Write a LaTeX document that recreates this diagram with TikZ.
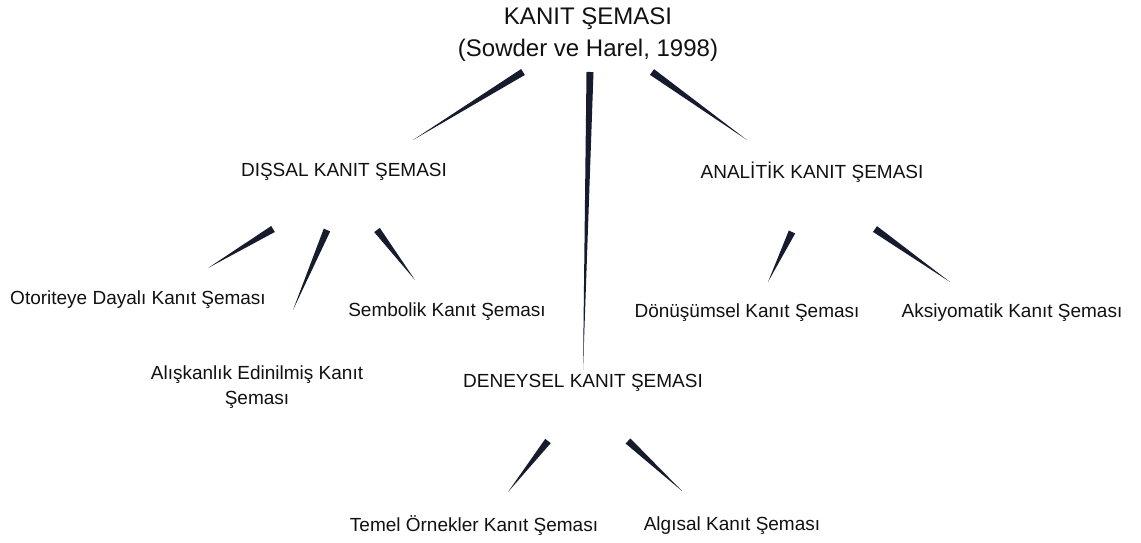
\documentclass[tikz,border=0pt]{standalone}
\usepackage{fontspec}
\setmainfont{Liberation Sans}
\usetikzlibrary{calc}
\definecolor{wedgecol}{HTML}{161B2E}
\definecolor{txtcol}{HTML}{111111}
\newcommand\wedgeconn[3][3.5pt]{\fill[wedgecol] ($(#2)!#1!90:(#3)$) -- ($(#2)!#1!-90:(#3)$) -- (#3) -- cycle;}
\tikzset{
  lbl/.style={text=txtcol, font=\fontsize{19}{25}\selectfont, inner sep=0pt, align=center},
  ttl/.style={text=txtcol, font=\fontsize{24}{32}\selectfont, inner sep=0pt, align=center}
}
\begin{document}
\begin{tikzpicture}[x=1pt,y=-1pt]
\useasboundingbox[fill=white] (0,0) rectangle (1141,543);
% nodes
\node[ttl] (root) at (588,35) {KANIT ŞEMASI\\(Sowder ve Harel, 1998)};
\node[lbl] (dis) at (344,172) {DIŞSAL KANIT ŞEMASI};
\node[lbl] (ana) at (812,172) {ANALİTİK KANIT ŞEMASI};
\node[lbl] (oto) at (138,300) {Otoriteye Dayalı Kanıt Şeması};
\node[lbl] (ali) at (257,387) {Alışkanlık Edinilmiş Kanıt\\Şeması};
\node[lbl] (sem) at (447,312) {Sembolik Kanıt Şeması};
\node[lbl] (den) at (583,383) {DENEYSEL KANIT ŞEMASI};
\node[lbl] (don) at (747,313) {Dönüşümsel Kanıt Şeması};
\node[lbl] (aks) at (1012,313) {Aksiyomatik Kanıt Şeması};
\node[lbl] (tem) at (474,526) {Temel Örnekler Kanıt Şeması};
\node[lbl] (alg) at (732,526) {Algısal Kanıt Şeması};
% wedge end points
\coordinate (r1) at (523,72);   \coordinate (d1) at (413,140);
\coordinate (r2) at (590,72);   \coordinate (e1) at (583,370);
\coordinate (r3) at (652,72);   \coordinate (a1) at (747,140);
\coordinate (ds1) at (273,229); \coordinate (o1) at (208,268);
\coordinate (ds2) at (327,230); \coordinate (l1) at (293,310);
\coordinate (ds3) at (377,230); \coordinate (s1) at (415,280);
\coordinate (an1) at (792,232); \coordinate (n1) at (768,282);
\coordinate (an2) at (875,229); \coordinate (k1) at (950,282);
\coordinate (de1) at (548,441); \coordinate (t1) at (508,492);
\coordinate (de2) at (628,441); \coordinate (g1) at (682,491);
% connectors
\wedgeconn{r1}{d1}
\wedgeconn{r2}{e1}
\wedgeconn{r3}{a1}
\wedgeconn{ds1}{o1}
\wedgeconn{ds2}{l1}
\wedgeconn{ds3}{s1}
\wedgeconn{an1}{n1}
\wedgeconn{an2}{k1}
\wedgeconn{de1}{t1}
\wedgeconn{de2}{g1}
\end{tikzpicture}
\end{document}
